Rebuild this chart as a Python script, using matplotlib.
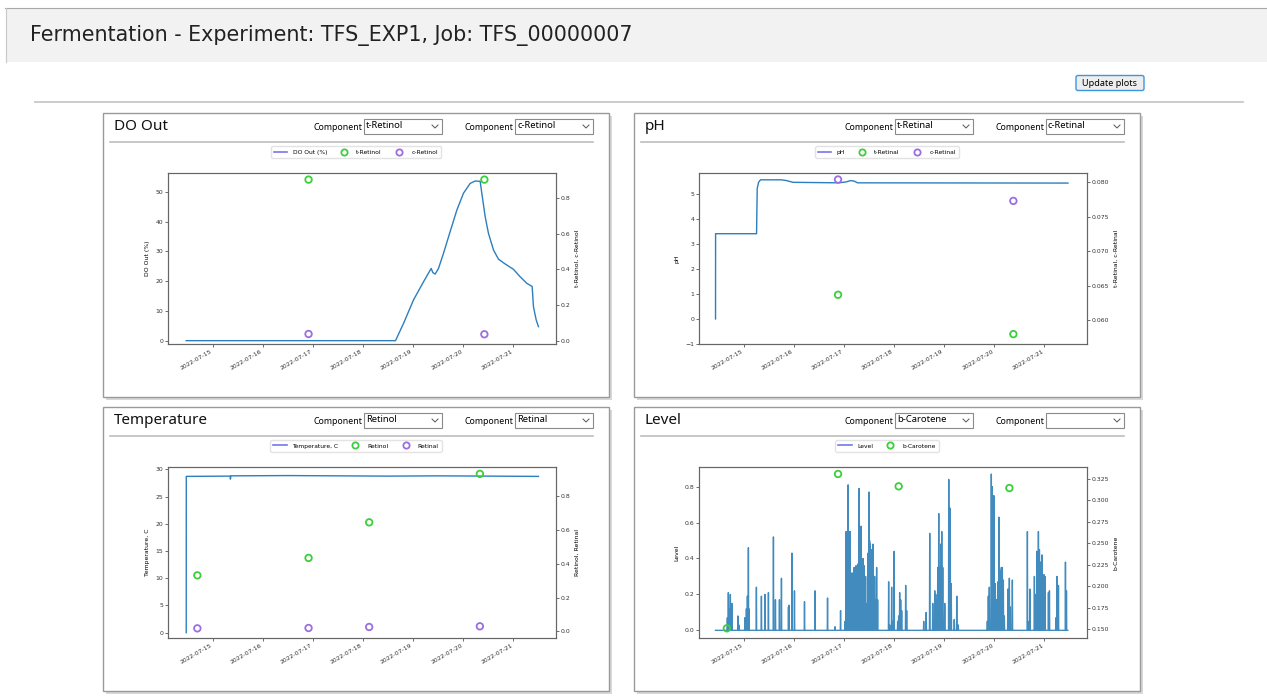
import matplotlib
matplotlib.use("Agg")
import matplotlib.pyplot as plt
import matplotlib.dates as mdates
from matplotlib.lines import Line2D
from matplotlib.patches import Rectangle, FancyBboxPatch
from matplotlib.ticker import FixedLocator, FormatStrFormatter
from datetime import datetime
import numpy as np

W, H = 1267, 700
BASE = mdates.date2num(datetime(2022, 7, 15))   # times below are days after 2022-07-15 00:00

# --- DO Out ---
do_t = [-0.532, 3.646, 3.806, 4.005, 4.205, 4.358, 4.391, 4.438, 4.504, 4.604, 4.737, 4.870,
        5.003, 5.136, 5.236, 5.336, 5.369, 5.436, 5.502, 5.602, 5.702, 5.835, 6.001, 6.134,
        6.267, 6.347, 6.374, 6.400, 6.454, 6.500]
do_v = [0, 0, 5.8, 13.7, 19.8, 24.3, 22.9, 22.4, 24.3, 29.4, 36.7, 43.9,
        49.6, 52.9, 53.7, 53.6, 49.6, 41.7, 36.1, 30.5, 27.4, 25.8, 24.0, 21.5,
        19.3, 18.5, 18.2, 11.4, 7.0, 4.7]
do_sample_t = [1.91, 5.42]
do_t_retinol = [0.905, 0.905]
do_c_retinol = [0.0375, 0.036]

# --- pH ---
ph_t = [-0.566, -0.565, 0.253, 0.266, 0.293, 0.333, 0.745, 0.85, 0.98, 1.90, 2.05, 2.13, 2.20, 2.27, 6.47]
ph_v = [0, 3.4, 3.4, 5.2, 5.45, 5.55, 5.55, 5.52, 5.45, 5.43, 5.47, 5.52, 5.50, 5.43, 5.42]
ph_sample_t = [1.88, 5.38]
ph_t_retinal = [0.0637, 0.0580]
ph_c_retinal = [0.0804, 0.0773]

# --- Temperature ---
temp_t = [-0.532, -0.531, 0.30, 0.345, 0.35, 0.36, 1.5, 2.5, 3.5, 4.5, 5.5, 6.5]
temp_v = [0, 28.7, 28.75, 28.75, 28.2, 28.8, 28.85, 28.8, 28.75, 28.8, 28.75, 28.7]
temp_sample_t = [-0.31, 1.91, 3.12, 5.33]
temp_retinol = [0.331, 0.434, 0.644, 0.930]
temp_retinal = [0.018, 0.020, 0.026, 0.030]

# --- Level (spikes) ---
level_start, level_end = -0.566, 6.467
level_spike_t = [-0.33, -0.31, -0.30, -0.27, -0.24, -0.12, -0.10, 0.02, 0.05, 0.07, 0.09, 0.10,
                 0.25, 0.35, 0.42, 0.49, 0.59, 0.63, 0.71, 0.75, 0.89, 0.90, 0.96, 1.01,
                 1.21, 1.42, 1.67, 1.82, 1.93,
                 2.02, 2.04, 2.06, 2.08, 2.09, 2.11, 2.12, 2.14, 2.16, 2.18, 2.20, 2.22, 2.24,
                 2.28, 2.30, 2.32, 2.33, 2.34, 2.36, 2.38, 2.40, 2.41, 2.43, 2.46, 2.48, 2.50,
                 2.51, 2.52, 2.54, 2.56, 2.58, 2.61, 2.63, 2.65, 2.67,
                 2.89, 2.91, 2.95, 2.97, 3.00, 3.07, 3.09, 3.11, 3.13, 3.15, 3.23, 3.25,
                 3.59, 3.64, 3.71, 3.77, 3.81, 3.83, 3.85, 3.87, 3.89, 3.91, 3.93, 3.95,
                 3.97, 4.01, 4.09, 4.12, 4.14, 4.20, 4.25, 4.28,
                 4.86, 4.88, 4.90, 4.94, 4.96, 4.99, 5.02, 5.04, 5.07, 5.09, 5.12, 5.14,
                 5.16, 5.18, 5.20, 5.27, 5.30, 5.32, 5.36,
                 5.66, 5.69, 5.71, 5.80, 5.83, 5.85, 5.88, 5.90, 5.92, 5.95, 5.99, 6.01,
                 6.08, 6.10, 6.23, 6.25, 6.28, 6.42, 6.44]
level_spike_v = [0.07, 0.21, 0.12, 0.20, 0.15, 0.08, 0.03, 0.07, 0.12, 0.19, 0.46, 0.12,
                 0.24, 0.19, 0.20, 0.21, 0.52, 0.17, 0.17, 0.29, 0.13, 0.14, 0.43, 0.22,
                 0.16, 0.22, 0.18, 0.02, 0.11,
                 0.05, 0.55, 0.40, 0.81, 0.55, 0.45, 0.55, 0.30, 0.32, 0.28, 0.35, 0.25, 0.36,
                 0.37, 0.79, 0.55, 0.30, 0.58, 0.35, 0.40, 0.36, 0.25, 0.30, 0.15, 0.43, 0.77,
                 0.50, 0.48, 0.45, 0.40, 0.48, 0.30, 0.17, 0.35, 0.17,
                 0.27, 0.03, 0.24, 0.05, 0.44, 0.05, 0.08, 0.21, 0.17, 0.11, 0.25, 0.11,
                 0.05, 0.10, 0.54, 0.15, 0.22, 0.20, 0.17, 0.35, 0.65, 0.35, 0.48, 0.55,
                 0.35, 0.15, 0.84, 0.68, 0.26, 0.06, 0.19, 0.03,
                 0.05, 0.19, 0.24, 0.87, 0.80, 0.75, 0.26, 0.17, 0.27, 0.63, 0.33, 0.35,
                 0.35, 0.28, 0.08, 0.23, 0.29, 0.13, 0.28,
                 0.55, 0.05, 0.23, 0.30, 0.20, 0.44, 0.55, 0.45, 0.38, 0.42, 0.31, 0.30,
                 0.21, 0.22, 0.07, 0.30, 0.25, 0.38, 0.22]
level_sample_t = [-0.34, 1.88, 3.09, 5.30]
level_bcarotene = [0.1508, 0.3308, 0.3164, 0.3144]

XLIM = (-0.89, 6.85)
LINE_C = '#2c7fbf'
LEG_LINE_C = '#7777ee'
GREEN = '#3ccf3c'
PURPLE = '#9a6fe0'
UI_FONT = 'Noto Sans'


def spikes(start, end, t, v, half=0.005):
    xs, ys = [start], [0]
    for ti, vi in zip(t, v):
        xs += [ti - half, ti, ti + half]
        ys += [0, vi, 0]
    xs.append(end)
    ys.append(0)
    return xs, ys


fig = plt.figure(figsize=(W / 100, H / 100), dpi=100)
bg = fig.add_axes([0, 0, 1, 1])
bg.set_xlim(0, W)
bg.set_ylim(H, 0)
bg.axis('off')

# window chrome
bg.add_patch(Rectangle((6, 8), W, 54, fc='#f2f2f2', ec='none'))
bg.plot([5, W], [7.5, 7.5], color='#a8a8a8', lw=0.8)
bg.plot([5.5, 5.5], [7.5, 62], color='#c8c8c8', lw=0.8)
bg.text(30, 36, 'Fermentation - Experiment: TFS_EXP1, Job: TFS_00000007', fontsize=14.9,
        va='center', color='#222222')
bg.add_patch(FancyBboxPatch((1076, 75.5), 68, 15, boxstyle='round,pad=0,rounding_size=2',
                            fc='#eeeeee', ec='#3d95e0', lw=1))
bg.text(1110, 83, 'Update plots', fontsize=6.5, ha='center', va='center', family=UI_FONT)
bg.plot([35, 1243], [102, 102], color='#c8c8c8', lw=1.3)


def draw_panel(ox, oy, title, comp1, comp2):
    x0, y0, x1, y1 = 103 + ox, 113 + oy, 609 + ox, 397 + oy
    bg.add_patch(Rectangle((x0 + 3, y0 + 3), x1 - x0, y1 - y0, fc='#d8d8d8', ec='none'))
    bg.add_patch(Rectangle((x0, y0), x1 - x0, y1 - y0, fc='white', ec='#9a9a9a', lw=1))
    bg.text(x0 + 11, 127 + oy, title, fontsize=11, va='center', color='#111111', family=UI_FONT)
    for cx, txt in [(364 + ox, comp1), (515 + ox, comp2)]:
        bg.text(cx - 2, 127 + oy, 'Component', fontsize=6.3, ha='right', va='center', family=UI_FONT)
        bg.add_patch(Rectangle((cx, 119 + oy), 78, 15, fc='white', ec='#8a8a8a', lw=0.8))
        bg.text(cx + 2, 126 + oy, txt, fontsize=6.8, va='center', family=UI_FONT)
        bg.plot([cx + 68, cx + 71, cx + 74], [125 + oy, 128 + oy, 125 + oy], color='#555555', lw=0.7)
    bg.plot([x0 + 7, x1 - 16], [142 + oy, 142 + oy], color='#bdbdbd', lw=1.2)


def draw_chart(ox, oy, line_x, line_y, line_label, scat_t, scatters, ylab_l, ylab_r,
               ylim_l, ylim_r, ticks_l, ticks_r, fmt_r, line_alpha=1.0, line_c=LINE_C):
    l, t, r, b = 168.3 + ox, 173.3 + oy, 556 + ox, 344 + oy
    ax = fig.add_axes([l / W, 1 - b / H, (r - l) / W, (b - t) / H])
    ax.plot(BASE + np.array(line_x), line_y, color=line_c, lw=1, alpha=line_alpha)
    ax2 = ax.twinx()
    handles = [Line2D([], [], color=LEG_LINE_C, lw=1.2)]
    labels = [line_label]
    for vals, c, lab in scatters:
        ax2.scatter(BASE + np.array(scat_t), vals, s=22, facecolors='none', edgecolors=c, linewidths=1.3)
        handles.append(Line2D([], [], ls='none', marker='o', ms=4.5, mfc='none', mec=c, mew=1.3))
        labels.append(lab)
    ax.set_xlim(BASE + XLIM[0], BASE + XLIM[1])
    ax.set_ylim(*ylim_l)
    ax2.set_ylim(*ylim_r)
    ax.yaxis.set_major_locator(FixedLocator(ticks_l))
    ax2.yaxis.set_major_locator(FixedLocator(ticks_r))
    ax2.yaxis.set_major_formatter(FormatStrFormatter(fmt_r))
    ax.xaxis.set_major_locator(mdates.DayLocator())
    ax.xaxis.set_major_formatter(mdates.DateFormatter('%Y-%m-%d'))
    for a in (ax, ax2):
        a.tick_params(labelsize=4.4, length=2, width=0.5, pad=1.5, colors='#333333')
        for s in a.spines.values():
            s.set_color('#666666')
            s.set_linewidth(0.8)
    for lab in ax.get_xticklabels():
        lab.set_rotation(30)
        lab.set_ha('right')
    ax.set_ylabel(ylab_l, fontsize=4.4, labelpad=4)
    ax2.set_ylabel(ylab_r, fontsize=4.4, labelpad=3)
    fig.legend(handles, labels, loc='center', bbox_to_anchor=((356 + ox) / W, 1 - (152 + oy) / H),
               ncol=len(labels), fontsize=4.3, frameon=True, edgecolor='#dddddd', fancybox=True,
               handlelength=2.2, handletextpad=0.9, columnspacing=1.8, borderpad=0.5)


DX, DY = 531, 294

draw_panel(0, 0, 'DO Out', 't-Retinol', 'c-Retinol')
draw_panel(DX, 0, 'pH', 't-Retinal', 'c-Retinal')
draw_panel(0, DY, 'Temperature', 'Retinol', 'Retinal')
draw_panel(DX, DY, 'Level', 'b-Carotene', '')

draw_chart(0, 0, do_t, do_v, 'DO Out (%)', do_sample_t,
           [(do_t_retinol, GREEN, 't-Retinol'), (do_c_retinol, PURPLE, 'c-Retinol')],
           'DO Out (%)', 't-Retinol, c-Retinol', (-1.12, 56.3), (-0.0187, 0.9405),
           [0, 10, 20, 30, 40, 50], [0.0, 0.2, 0.4, 0.6, 0.8], '%.1f')

draw_chart(DX, 0, ph_t, ph_v, 'pH', ph_sample_t,
           [(ph_t_retinal, GREEN, 't-Retinal'), (ph_c_retinal, PURPLE, 'c-Retinal')],
           'pH', 't-Retinal, c-Retinal', (-1.0, 5.81), (0.05657, 0.0813),
           [-1, 0, 1, 2, 3, 4, 5], [0.060, 0.065, 0.070, 0.075, 0.080], '%.3f')

draw_chart(0, DY, temp_t, temp_v, 'Temperature, C', temp_sample_t,
           [(temp_retinol, GREEN, 'Retinol'), (temp_retinal, PURPLE, 'Retinal')],
           'Temperature, C', 'Retinol, Retinal', (-0.98, 30.37), (-0.039, 0.969),
           [0, 5, 10, 15, 20, 25, 30], [0.0, 0.2, 0.4, 0.6, 0.8], '%.1f')

lvl_x, lvl_y = spikes(level_start, level_end, level_spike_t, level_spike_v)
draw_chart(DX, DY, lvl_x, lvl_y, 'Level', level_sample_t,
           [(level_bcarotene, GREEN, 'b-Carotene')],
           'Level', 'b-Carotene', (-0.0427, 0.9077), (0.1395, 0.3386),
           [0.0, 0.2, 0.4, 0.6, 0.8], [0.150, 0.175, 0.200, 0.225, 0.250, 0.275, 0.300, 0.325], '%.3f',
           line_alpha=0.85, line_c='#1f77b4')

fig.savefig('out.png', dpi=100)
